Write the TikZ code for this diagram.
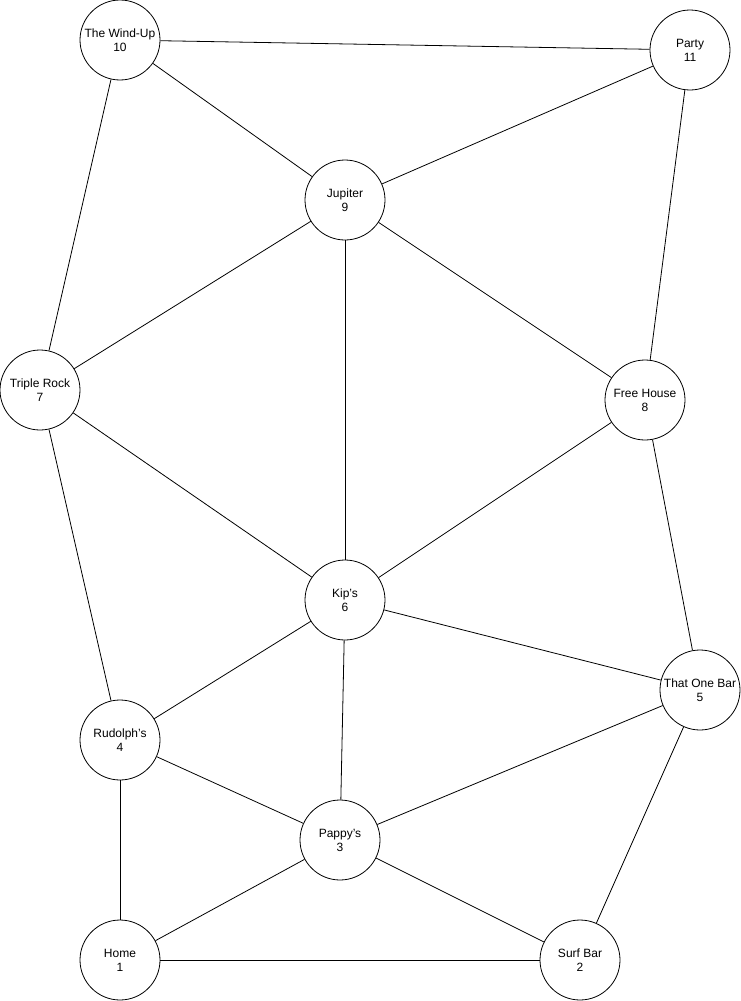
\documentclass[tikz,border=0pt]{standalone}
\usepackage{fontspec}
\setmainfont{Liberation Sans}
\begin{document}
\begin{tikzpicture}[x=1pt,y=-1pt,
  bar/.style={circle,draw,line width=0.8pt,minimum size=80pt,inner sep=0pt,align=center,font=\fontsize{12}{14}\selectfont,fill=white},
  edge/.style={line width=0.8pt}]
\useasboundingbox (0,0) rectangle (741,1001);
\node[bar] (n10) at (120,40) {The Wind-Up\\10};
\node[bar] (n11) at (690,50) {Party\\11};
\node[bar] (n9) at (345,200) {Jupiter\\9};
\node[bar] (n7) at (40,390) {Triple Rock\\7};
\node[bar] (n8) at (645,400) {Free House\\8};
\node[bar] (n6) at (345,600) {Kip's\\6};
\node[bar] (n5) at (700,690) {That One Bar\\5};
\node[bar] (n4) at (120,740) {Rudolph's\\4};
\node[bar] (n3) at (340,840) {Pappy's\\3};
\node[bar] (n1) at (120,960) {Home\\1};
\node[bar] (n2) at (580,960) {Surf Bar\\2};
\foreach \a/\b in {n10/n11,n10/n9,n10/n7,n11/n9,n11/n8,n9/n7,n9/n6,n9/n8,n7/n6,n7/n4,n8/n6,n8/n5,n6/n5,n6/n4,n6/n3,n5/n3,n5/n2,n4/n3,n4/n1,n3/n1,n3/n2,n1/n2}
  \draw[edge] (\a) -- (\b);
\end{tikzpicture}
\end{document}
